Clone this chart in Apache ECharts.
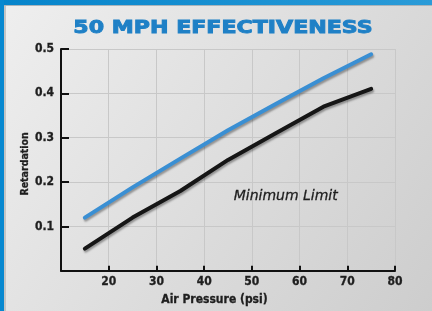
<!DOCTYPE html>
<html>
<head>
<meta charset="utf-8">
<script src="https://cdn.jsdelivr.net/npm/echarts@6/dist/echarts.min.js"></script>
<style>html,body{margin:0;padding:0;}#c{width:432px;height:311px;}</style>
</head>
<body>
<div id="c"></div>
<script>
var title = '50 MPH EFFECTIVENESS';
var xName = 'Air Pressure (psi)';
var yName = 'Retardation';
var noteText = 'Minimum Limit';
var pressure = [15, 25, 35, 45, 55, 65, 75];
var upperValues = [0.12, 0.188, 0.253, 0.317, 0.376, 0.434, 0.488];
var minimumValues = [0.05, 0.12, 0.18, 0.25, 0.31, 0.37, 0.41];

var chart = echarts.init(document.getElementById('c'), null, {renderer: 'canvas'});
var condFont = '"DejaVu Sans Condensed", "DejaVu Sans", sans-serif';
var shadow = {shadowColor: 'rgba(0,0,0,0.35)', shadowBlur: 2, shadowOffsetX: 1, shadowOffsetY: 2};

chart.setOption({
  animation: false,
  graphic: [
    {type: 'rect', z: -10, silent: true, shape: {x: 0, y: 0, width: 432, height: 311},
      style: {fill: new echarts.graphic.LinearGradient(0, 0, 1, 1, [
        {offset: 0, color: '#efefef'}, {offset: 1, color: '#cdcdcd'}])}},
    {type: 'rect', z: -9, silent: true, shape: {x: 4, y: 5, width: 2, height: 306}, style: {fill: '#c4c4c4'}},
    {type: 'rect', z: -9, silent: true, shape: {x: 4, y: 5, width: 428, height: 1}, style: {fill: '#a9b4bb'}},
    {type: 'rect', z: -8, silent: true, shape: {x: 0, y: 0, width: 432, height: 5},
      style: {fill: new echarts.graphic.LinearGradient(0, 0, 1, 0, [
        {offset: 0, color: '#0584cb'}, {offset: 1, color: '#2a9bd8'}])}},
    {type: 'rect', z: -8, silent: true, shape: {x: 0, y: 0, width: 4, height: 311}, style: {fill: '#0788d0'}},
    {type: 'text', z: 10, x: 223, y: 29, scaleX: 1.3, scaleY: 1,
      style: {text: title, x: 0, y: 0, textAlign: 'center', textVerticalAlign: 'middle',
        fill: '#1f80c6', stroke: '#1f80c6', lineWidth: 0.9, font: 'bold 17px "DejaVu Sans", sans-serif'}}
  ],
  grid: {left: 61, right: 37, top: 49, bottom: 38, containLabel: false},
  xAxis: {
    type: 'value', min: 10, max: 80, interval: 10,
    name: xName, nameLocation: 'middle', nameGap: 23, nameMoveOverlap: false,
    nameTextStyle: {fontFamily: condFont, fontWeight: 'bold', fontSize: 12, color: '#1e1e1e', padding: [0, 27, 0, 0],
      textBorderColor: '#1e1e1e', textBorderWidth: 0.3},
    axisLine: {show: true, onZero: false, lineStyle: {color: '#111', width: 2}},
    axisTick: {show: true, inside: true, length: 5, lineStyle: {color: '#111', width: 2}},
    axisLabel: {showMinLabel: false, margin: 5, fontFamily: condFont, fontWeight: 'bold', fontSize: 12, color: '#1e1e1e',
      textBorderColor: '#1e1e1e', textBorderWidth: 0.3},
    splitLine: {show: true, lineStyle: {color: '#c8c8c8', width: 1}}
  },
  yAxis: {
    type: 'value', min: 0, max: 0.5, interval: 0.1,
    name: yName, nameLocation: 'middle', nameGap: 30, nameRotate: 90, nameMoveOverlap: false,
    nameTextStyle: {fontFamily: condFont, fontWeight: 'bold', fontSize: 10.5, color: '#1e1e1e', padding: [0, 8, 0, 0],
      textBorderColor: '#1e1e1e', textBorderWidth: 0.3},
    axisLine: {show: true, onZero: false, lineStyle: {color: '#111', width: 2}},
    axisTick: {show: true, inside: true, length: 8, lineStyle: {color: '#111', width: 2}},
    axisLabel: {showMinLabel: false, margin: 7, fontFamily: condFont, fontWeight: 'bold', fontSize: 12, color: '#1e1e1e',
      textBorderColor: '#1e1e1e', textBorderWidth: 0.3,
      formatter: function (v) { return v.toFixed(1); }},
    splitLine: {show: true, lineStyle: {color: '#c8c8c8', width: 1}}
  },
  series: [
    {type: 'line', name: 'upper', symbol: 'none', z: 3,
      data: pressure.map(function (p, i) { return [p, upperValues[i]]; }),
      lineStyle: Object.assign({color: '#3a8fd3', width: 4, cap: 'round', join: 'round'}, shadow)},
    {type: 'line', name: 'minimum', symbol: 'none', z: 3,
      data: pressure.map(function (p, i) { return [p, minimumValues[i]]; }),
      lineStyle: Object.assign({color: '#161616', width: 4, cap: 'round', join: 'round'}, shadow),
      markPoint: {
        symbol: 'circle', symbolSize: 0, silent: true,
        data: [{coord: [57.1, 0.167]}],
        label: {show: true, position: 'inside', formatter: noteText,
          fontFamily: '"DejaVu Sans", sans-serif', fontStyle: 'italic', fontSize: 14, color: '#1e1e1e',
          textBorderColor: '#1e1e1e', textBorderWidth: 0.3}
      }}
  ]
});
</script>
</body>
</html>
